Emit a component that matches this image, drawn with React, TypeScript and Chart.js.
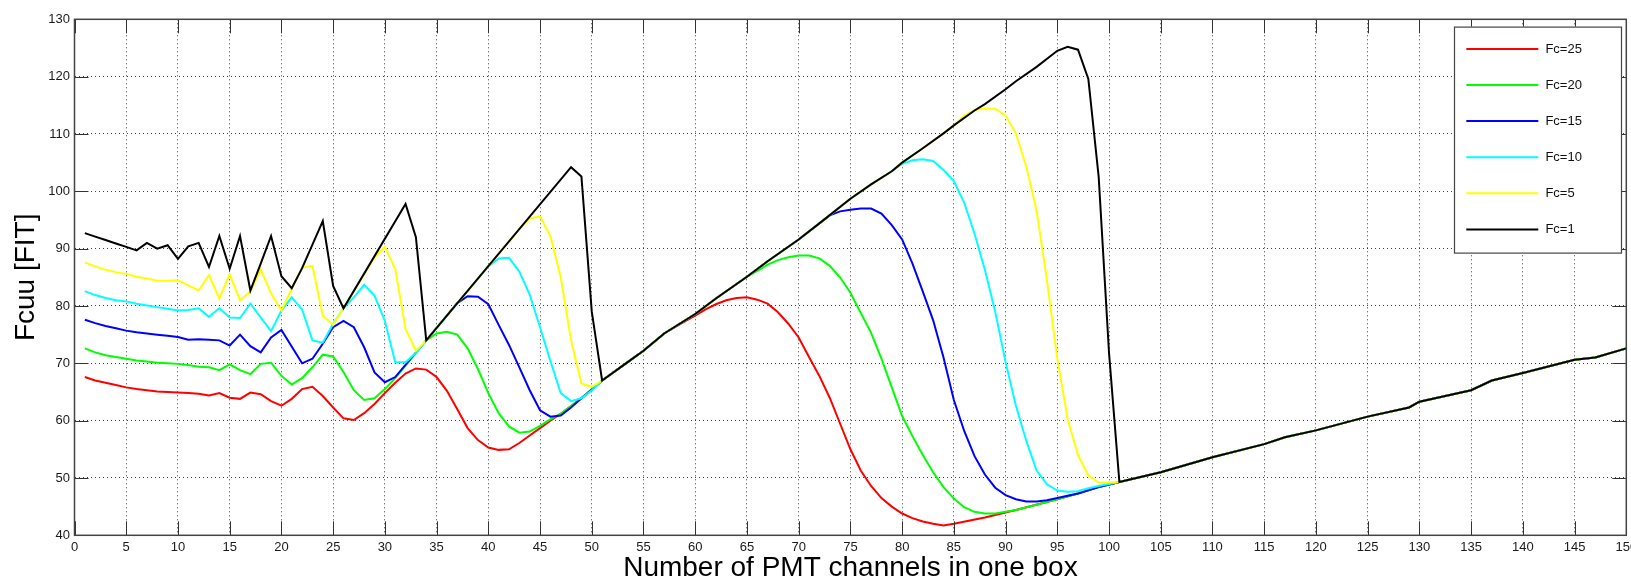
import React, { useEffect, useRef } from "react";
import { Chart, registerables } from "chart.js";

Chart.register(...registerables);

type Pt = [number, number];

// ---- tick values ----
const xTickValues = [0, 5, 10, 15, 20, 25, 30, 35, 40, 45, 50, 55, 60, 65, 70, 75, 80, 85, 90, 95, 100, 105, 110, 115, 120, 125, 130, 135, 140, 145, 150];
const yTickValues = [40, 50, 60, 70, 80, 90, 100, 110, 120, 130];

// ---- shared straight segments ----
const rampD: Pt[] = [
  [51, 67.0], [53, 69.6], [55, 72.2], [57, 75.2], [60, 78.6], [62, 81.3], [65, 85.1], [67, 87.8],
  [70, 91.6], [72, 94.4], [75, 98.7], [77, 101.2], [79, 103.5], [80, 105.0], [82, 107.5], [84, 110.1],
  [85, 111.5], [87, 114.1], [88, 115.2], [90, 117.8], [91, 119.2], [93, 121.7], [95, 124.5], [96, 125.2],
];
const lowRamp: Pt[] = [[85, 42.0], [88, 43.1], [91, 44.4], [94, 45.8], [97, 47.3], [99, 48.4], [101, 49.3]];
const tail: Pt[] = [
  [101, 49.3], [105, 51.0], [110, 53.6], [115, 55.9], [117, 57.1], [120, 58.3], [125, 60.7], [129, 62.3],
  [130, 63.3], [135, 65.3], [137, 67.0], [140, 68.3], [145, 70.6], [147, 71.0], [150, 72.6],
];

const upTo = (p: Pt[], x: number) => p.filter((q) => q[0] <= x);
const from = (p: Pt[], x: number) => p.filter((q) => q[0] >= x);

// ---- series ----
const fc1: Pt[] = [
  [1, 92.7], [2, 92.1], [3, 91.5], [4, 90.9], [5, 90.3], [6, 89.7], [7, 91.0], [8, 90.0], [9, 90.6], [10, 88.2],
  [11, 90.4], [12, 91.0], [13, 86.8], [14, 92.2], [15, 86.5], [16, 92.2], [17, 82.7], [18, 87.4], [19, 92.2], [20, 85.2],
  [21, 83.1], [22, 86.6], [23, 90.7], [24, 94.8], [25, 83.5], [26, 79.6], [32, 97.8], [33, 92.0], [34, 74.0], [48, 104.2],
  [49, 102.6], [50, 79.0],
  ...rampD,
  [97, 124.7], [98, 119.6], [99, 102.5], [100, 71.8],
  ...tail,
];

const fc5: Pt[] = [
  [1, 87.6], [2, 86.9], [3, 86.3], [4, 85.9], [5, 85.6], [6, 85.1], [7, 84.8], [8, 84.4], [9, 84.4], [10, 84.5],
  [12, 82.7], [13, 85.4], [14, 81.3], [15, 85.5], [16, 81.0], [17, 82.5], [18, 86.4], [19, 82.2], [20, 79.2],
  [21, 83.0], [22, 86.7], [23, 87.0], [24, 78.3], [25, 76.7], [26, 79.6], [29, 88.5], [30, 90.3], [31, 86.5],
  [32, 76.0], [33, 72.2], [34, 74.0], [43, 93.4], [44, 95.3], [45, 95.6], [46, 92.2], [47, 85.0], [48, 74.0],
  [49, 66.5], [50, 65.9],
  ...upTo(rampD, 85),
  [86, 113.2], [87, 114.2], [88, 114.4], [89, 114.4], [90, 113.2], [91, 110.1], [92, 104.3], [93, 96.6],
  [94, 84.5], [95, 70.8], [96, 60.3], [97, 54.0], [98, 50.4], [99, 49.2], [100, 49.2],
  ...tail,
];

const fc10: Pt[] = [
  [1, 82.6], [2, 81.9], [3, 81.4], [4, 81.0], [5, 80.8], [6, 80.4], [7, 80.1], [8, 79.8], [9, 79.5], [10, 79.2],
  [11, 79.3], [12, 79.6], [13, 78.1], [14, 79.6], [15, 78.0], [16, 77.9], [17, 80.4], [19, 75.6], [20, 79.2],
  [21, 81.5], [22, 79.4], [23, 74.0], [24, 73.6], [25, 76.9], [26, 79.6], [27, 81.5], [28, 83.7], [29, 81.8],
  [30, 77.4], [31, 70.2], [32, 70.2], [33, 71.8], [34, 74.0], [40, 86.9], [41, 88.3], [42, 88.4], [43, 86.0],
  [44, 82.0], [45, 76.3], [46, 70.4], [47, 64.8], [48, 63.4], [49, 63.9], [50, 65.3],
  ...upTo(rampD, 79),
  [80, 104.8], [81, 105.4], [82, 105.6], [83, 105.3], [84, 103.7], [85, 101.8], [86, 98.0], [87, 92.6],
  [88, 86.3], [89, 79.0], [90, 70.2], [91, 62.6], [92, 56.5], [93, 51.3], [94, 48.9], [95, 47.8], [96, 47.6],
  [97, 47.7], [98, 48.2], [99, 48.6],
  ...tail,
];

const fc15: Pt[] = [
  [1, 77.6], [2, 77.0], [3, 76.5], [4, 76.1], [5, 75.7], [6, 75.4], [7, 75.2], [8, 75.0], [9, 74.8], [10, 74.6],
  [11, 74.1], [12, 74.2], [13, 74.1], [14, 74.0], [15, 73.1], [16, 75.0], [17, 73.0], [18, 71.9], [19, 74.5],
  [20, 75.8], [22, 70.0], [23, 70.8], [24, 73.4], [25, 76.3], [26, 77.4], [27, 76.3], [28, 72.8], [29, 68.4],
  [30, 66.7], [31, 67.6], [34, 74.0], [37, 80.5], [38, 81.7], [39, 81.6], [40, 80.3], [41, 76.7], [42, 73.2],
  [43, 69.3], [44, 65.3], [45, 61.8], [46, 60.7], [47, 60.9], [48, 62.3], [49, 63.9], [50, 65.4],
  ...upTo(rampD, 72),
  [73, 95.8], [74, 96.5], [75, 96.8], [76, 97.0], [77, 97.0], [78, 96.1], [79, 94.1], [80, 91.6], [81, 87.4],
  [82, 82.5], [83, 77.5], [84, 71.0], [85, 63.6], [86, 58.2], [87, 53.8], [88, 50.6], [89, 48.3], [90, 47.0],
  [91, 46.3], [92, 45.9], [93, 45.9], [94, 46.1],
  ...from(lowRamp, 97),
  ...from(tail, 105),
];

const fc20: Pt[] = [
  [1, 72.6], [2, 71.9], [3, 71.4], [4, 71.1], [5, 70.8], [6, 70.5], [7, 70.3], [8, 70.1], [9, 70.0], [10, 69.9],
  [11, 69.7], [12, 69.4], [13, 69.3], [14, 68.8], [15, 69.8], [16, 68.8], [17, 68.1], [18, 69.9], [19, 70.1],
  [20, 67.8], [21, 66.3], [22, 67.4], [23, 69.3], [24, 71.5], [25, 71.2], [26, 68.5], [27, 65.3], [28, 63.6],
  [29, 63.9], [30, 65.5], [31, 67.4], [34, 74.0], [35, 75.2], [36, 75.5], [37, 75.0], [38, 72.6], [39, 69.0],
  [40, 64.8], [41, 61.3], [42, 59.0], [43, 57.9], [44, 58.1], [45, 59.1], [46, 60.2], [47, 61.2], [49, 63.9],
  ...upTo(rampD, 65),
  [66, 86.1], [67, 87.2], [68, 88.0], [69, 88.5], [70, 88.8], [71, 88.8], [72, 88.3], [73, 87.0], [74, 85.0],
  [75, 82.3], [76, 78.8], [77, 75.3], [78, 70.8], [79, 65.8], [80, 60.8], [81, 57.3], [82, 54.0], [83, 51.0],
  [84, 48.4], [85, 46.4], [86, 44.9], [87, 44.1], [88, 43.8], [89, 43.8], [90, 44.1],
  ...from(lowRamp, 91),
  ...from(tail, 105),
];

const fc25: Pt[] = [
  [1, 67.6], [2, 67.0], [3, 66.6], [4, 66.2], [5, 65.8], [6, 65.5], [7, 65.3], [8, 65.1], [9, 65.0], [10, 64.9],
  [11, 64.8], [12, 64.7], [13, 64.4], [14, 64.8], [15, 64.0], [16, 63.8], [17, 64.9], [18, 64.6], [19, 63.4],
  [20, 62.6], [21, 63.8], [22, 65.5], [23, 65.9], [24, 64.3], [25, 62.3], [26, 60.4], [27, 60.1], [28, 61.3],
  [29, 62.9], [30, 64.8], [31, 66.6], [32, 68.2], [33, 69.1], [34, 68.9], [35, 67.6], [36, 65.2], [37, 62.0],
  [38, 58.7], [39, 56.6], [40, 55.3], [41, 54.9], [42, 55.0], [43, 56.1], [44, 57.4], [45, 58.7], [46, 60.0],
  [47, 61.2], [49, 63.9],
  ...upTo(rampD, 57),
  [59, 77.3], [60, 78.3], [61, 79.4], [62, 80.3], [63, 81.0], [64, 81.4], [65, 81.5], [66, 81.1], [67, 80.4],
  [68, 78.9], [69, 76.9], [70, 74.5], [71, 71.1], [72, 67.8], [73, 64.0], [74, 59.5], [75, 55.0], [76, 51.3],
  [77, 48.6], [78, 46.5], [79, 45.0], [80, 43.8], [81, 43.0], [82, 42.4], [83, 42.0], [84, 41.7],
  ...lowRamp,
  ...from(tail, 105),
];

// legend order (top to bottom) and colours
const seriesLabels = ["Fc=25", "Fc=20", "Fc=15", "Fc=10", "Fc=5", "Fc=1"];
const seriesColors = ["#ff0000", "#00ff00", "#0000ff", "#00ffff", "#ffff00", "#000000"];
const seriesData = [fc25, fc20, fc15, fc10, fc5, fc1];

const FONT = "'Liberation Sans', Arial, Helvetica, sans-serif";

const framePlugin = {
  id: "matlabFrame",
  afterDatasetsDraw(chart: any) {
    const { ctx, chartArea: a, scales } = chart;
    const TL = 14;
    ctx.save();
    ctx.strokeStyle = "#333";
    ctx.lineWidth = 1;
    ctx.beginPath();
    for (const v of xTickValues) {
      const px = Math.round(scales.x.getPixelForValue(v)) + 0.5;
      ctx.moveTo(px, a.bottom);
      ctx.lineTo(px, a.bottom - TL);
      ctx.moveTo(px, a.top);
      ctx.lineTo(px, a.top + TL);
    }
    for (const v of yTickValues) {
      const py = Math.round(scales.y.getPixelForValue(v)) + 0.5;
      ctx.moveTo(a.left, py);
      ctx.lineTo(a.left + TL, py);
      ctx.moveTo(a.right, py);
      ctx.lineTo(a.right - TL, py);
    }
    ctx.stroke();
    ctx.strokeStyle = "#444";
    ctx.lineWidth = 1.5;
    ctx.strokeRect(a.left, a.top, a.right - a.left, a.bottom - a.top);
    ctx.restore();
  },
  afterDraw(chart: any) {
    const { ctx, chartArea: a } = chart;
    const w = 167;
    const h = 226;
    const left = a.right - 5.3 - w;
    const top = a.top + 7.3;
    ctx.save();
    ctx.fillStyle = "#ffffff";
    ctx.fillRect(left, top, w, h);
    ctx.strokeStyle = "#444";
    ctx.lineWidth = 1.2;
    ctx.strokeRect(left + 0.5, top + 0.5, w, h);
    ctx.font = `13px ${FONT}`;
    ctx.textBaseline = "middle";
    ctx.textAlign = "left";
    seriesLabels.forEach((lab, i) => {
      const y = top + 22.3 + i * 36.1;
      ctx.strokeStyle = seriesColors[i];
      ctx.lineWidth = 2;
      ctx.beginPath();
      ctx.moveTo(left + 12.3, y);
      ctx.lineTo(left + 84.3, y);
      ctx.stroke();
      ctx.fillStyle = "#111";
      ctx.fillText(lab, left + 91.4, y + 0.5);
    });
    ctx.restore();
  },
};

export default function App() {
  const ref = useRef<HTMLCanvasElement | null>(null);

  useEffect(() => {
    if (!ref.current) return;
    // draw order: Fc=1 on top (dataset index 0 is drawn last)
    const order = [5, 4, 3, 2, 1, 0];
    const datasets = order.map((i) => ({
      label: seriesLabels[i],
      data: seriesData[i].map(([x, y]) => ({ x, y })),
      borderColor: seriesColors[i],
      backgroundColor: seriesColors[i],
      borderWidth: 2,
      pointRadius: 0,
      pointHoverRadius: 0,
      fill: false,
      tension: 0,
    }));

    const tickFont = { family: FONT, size: 13 };
    const chart = new Chart(ref.current, {
      type: "line",
      data: { datasets },
      options: {
        animation: false,
        responsive: true,
        maintainAspectRatio: false,
        devicePixelRatio: 1,
        events: [],
        layout: { padding: { top: 19.3, right: 4.7, left: 0, bottom: 0 } },
        plugins: { legend: { display: false }, tooltip: { enabled: false } },
        scales: {
          x: {
            type: "linear",
            min: 0,
            max: 150,
            afterBuildTicks: (s: any) => {
              s.ticks = xTickValues.map((v) => ({ value: v }));
            },
            afterFit: (s: any) => {
              s.height = 46.7;
              s.paddingLeft = 0;
              s.paddingRight = 0;
            },
            ticks: { autoSkip: false, maxRotation: 0, minRotation: 0, padding: 4, color: "#1a1a1a", font: tickFont },
            grid: { color: "rgba(0,0,0,0.75)", lineWidth: 1, drawTicks: false },
            border: { display: false, dash: [1, 3] },
            title: {
              display: true,
              text: "Number of PMT channels in one box",
              color: "#000",
              font: { family: FONT, size: 28, lineHeight: 1 },
              padding: { top: 0, bottom: 0 },
            },
          },
          y: {
            type: "linear",
            min: 40,
            max: 130,
            afterBuildTicks: (s: any) => {
              s.ticks = yTickValues.map((v) => ({ value: v }));
            },
            afterFit: (s: any) => {
              s.width = 74.5;
              s.paddingTop = 0;
              s.paddingBottom = 0;
            },
            ticks: { autoSkip: false, padding: 4.5, color: "#1a1a1a", font: tickFont },
            grid: { color: "rgba(0,0,0,0.75)", lineWidth: 1, drawTicks: false },
            border: { display: false, dash: [1, 3] },
            title: {
              display: true,
              text: "Fcuu [FIT]",
              color: "#000",
              font: { family: FONT, size: 28, lineHeight: 1 },
              padding: { top: 12, bottom: 0 },
            },
          },
        },
      },
      plugins: [framePlugin],
    } as any);

    return () => chart.destroy();
  }, []);

  return (
    <div style={{ position: "fixed", left: 0, top: 0, width: 1631, height: 582, background: "#fff" }}>
      <canvas ref={ref} />
    </div>
  );
}
